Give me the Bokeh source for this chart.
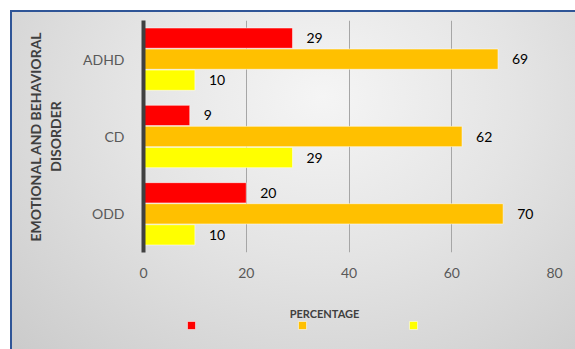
from bokeh.plotting import figure
from bokeh.layouts import column
from bokeh.models import FactorRange, Range1d, FixedTicker, Legend, LegendItem, Label, ColumnDataSource
from bokeh.transform import dodge
from bokeh.core.properties import value
from bokeh.embed import file_html
from bokeh.resources import INLINE

disorders = ["ADHD", "CD", "ODD"]
red_vals = [29, 9, 20]
orange_vals = [69, 62, 70]
yellow_vals = [10, 29, 10]
x_ticks = [0, 20, 40, 60, 80]
y_title = "EMOTIONAL AND BEHAVIORAL\nDISORDER"
x_title = "PERCENTAGE"

source = ColumnDataSource(dict(
    cat=disorders,
    red=red_vals, orange=orange_vals, yellow=yellow_vals,
    red_txt=[str(v) for v in red_vals],
    orange_txt=[str(v) for v in orange_vals],
    yellow_txt=[str(v) for v in yellow_vals],
))

FONT = "Lato"

p = figure(width=564, height=272,
           y_range=FactorRange(factors=list(reversed(disorders)), range_padding=0),
           x_range=Range1d(0, 80),
           output_backend="svg", toolbar_location=None,
           min_border_left=131, min_border_right=22, min_border_top=8, min_border_bottom=32)
p.background_fill_alpha = 0
p.border_fill_alpha = 0
p.outline_line_color = None

# second strip for the axis title and legend (off-range proxies feed the legend)
p2 = figure(width=564, height=66, x_range=Range1d(0, 80), y_range=Range1d(0, 1),
            output_backend="svg", toolbar_location=None,
            min_border_left=0, min_border_right=0, min_border_top=0, min_border_bottom=0)
p2.background_fill_alpha = 0
p2.border_fill_alpha = 0
p2.outline_line_color = None
p2.axis.visible = False
p2.grid.visible = False

series = [("red", "#FF0000", 0.272, red_vals), ("orange", "#FFC000", 0.0, orange_vals),
          ("yellow", "#FFFF00", -0.272, yellow_vals)]
items = []
for key, color, off, vals in series:
    p.hbar(y=dodge("cat", off, range=p.y_range), left=0, right=key, height=0.262,
           source=source, fill_color=color, line_color="white", line_alpha=0.5)
    p.text(x=key, y=dodge("cat", off, range=p.y_range), text=key + "_txt", x_offset=14,
           text_baseline="middle", text_align="left", text_font=value(FONT),
           text_font_size="14px", text_color="#000000", source=source)
    lr = p2.hbar(y=[-5] * len(vals), left=0, right=vals, height=0.2,
                 fill_color=color, line_color="white", line_alpha=0.5, line_width=1)
    items.append(LegendItem(label=" ", renderers=[lr]))

p.ygrid.grid_line_color = None
p.xgrid.grid_line_color = "#a6a6a6"
p.xgrid.grid_line_width = 1

p.xaxis.ticker = FixedTicker(ticks=x_ticks)
p.xaxis.axis_line_color = None
p.xaxis.major_tick_line_color = None
p.xaxis.minor_tick_line_color = None
p.xaxis.major_label_standoff = 9
p.xaxis.major_label_text_font = FONT
p.xaxis.major_label_text_font_size = "14px"
p.xaxis.major_label_text_color = "#595959"

p.yaxis.axis_line_color = "#404040"
p.yaxis.axis_line_width = 4
p.yaxis.major_tick_line_color = None
p.yaxis.minor_tick_line_color = None
p.yaxis.major_label_standoff = 13
p.yaxis.major_label_text_font = FONT
p.yaxis.major_label_text_font_size = "14px"
p.yaxis.major_label_text_color = "#595959"
p.yaxis.axis_label = y_title
p.yaxis.axis_label_standoff = 16
p.yaxis.axis_label_text_font = FONT
p.yaxis.axis_label_text_font_style = "bold"
p.yaxis.axis_label_text_font_size = "14px"
p.yaxis.axis_label_text_color = "#404040"

p2.add_layout(Label(x=181, y=37, x_units="screen", y_units="screen", text=x_title,
                    text_align="center", text_baseline="middle", text_font=FONT,
                    text_font_style="bold", text_font_size="11px", text_color="#404040"))

legend = Legend(items=items, location=(43, 20), orientation="horizontal",
                glyph_width=10, glyph_height=10, label_width=0, label_height=10,
                label_standoff=0, spacing=101, padding=0, margin=0,
                border_line_color=None, background_fill_alpha=0,
                label_text_font_size="1px")
p2.add_layout(legend, "center")

layout = column(p, p2, spacing=0)
layout.margin = (10, 0, 0, 10)
layout.styles = {
    "background": "radial-gradient(ellipse farthest-corner at 55% 25%, #f5f5f5 0%, #e4e4e4 45%, #cbcbcb 100%)",
    "border-top": "2px solid #2f5597",
    "border-left": "2px solid #2f5597",
}

open("out.html", "w").write(file_html(layout, INLINE))
